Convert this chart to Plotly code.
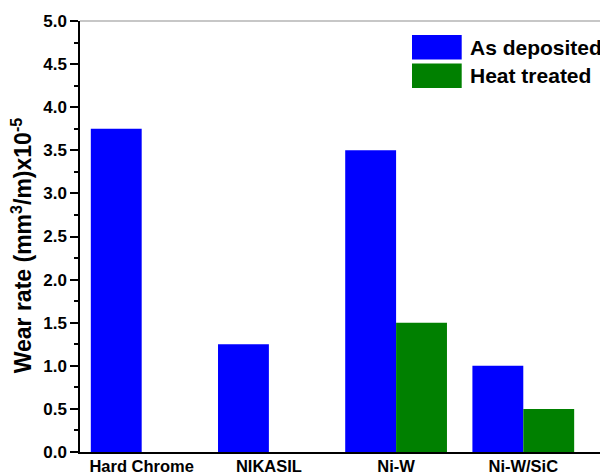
import plotly.graph_objects as go

categories = ["Hard Chrome", "NIKASIL", "Ni-W", "Ni-W/SiC"]
as_deposited = [3.75, 1.25, 3.5, 1.0]
heat_treated = [None, None, 1.5, 0.5]
series_names = ["As deposited", "Heat treated"]
colors = ["#0000FF", "#008000"]
y_ticks = [0.0, 0.5, 1.0, 1.5, 2.0, 2.5, 3.0, 3.5, 4.0, 4.5, 5.0]

FONT = "Liberation Sans, Arial, sans-serif"

fig = go.Figure()
for name, vals, col in zip(series_names, [as_deposited, heat_treated], colors):
    fig.add_trace(go.Bar(x=categories, y=vals, name=name, marker=dict(color=col, line=dict(width=0)),
                         showlegend=False))

# page has an 8px body margin; figure is shifted by (8, 8)
OFF = 8
W, H = 608 - OFF, 475 - OFF
L, R, T, B = 80 - OFF, 0, 20.7 - OFF, 23.3
pw, ph = W - L - R, H - T - B

def px(x):
    return (x - OFF - L) / pw

def py(y):
    return (H - B - (y - OFF)) / ph

shapes = [
    dict(type="line", xref="paper", yref="paper", x0=0, x1=1, y0=1, y1=1,
         line=dict(color="#b4b4b4", width=1.5)),
]
annotations = []
swatches = [(34.7, 59.3), (63.3, 87.7)]
for (y0, y1), name, col in zip(swatches, series_names, colors):
    shapes.append(dict(type="rect", xref="paper", yref="paper", x0=px(412), x1=px(461.7),
                       y0=py(y1), y1=py(y0), fillcolor=col, line=dict(width=0)))
    annotations.append(dict(xref="paper", yref="paper", x=px(468), y=py((y0 + y1) / 2),
                            text=name, showarrow=False, xanchor="left", yanchor="middle",
                            font=dict(family=FONT, size=21, color="black", weight="bold")))

annotations.append(dict(xref="paper", yref="paper", x=px(22), y=py(245),
                        text="Wear rate (mm<sup>3</sup>/m)x10<sup>-5</sup>", textangle=-90,
                        showarrow=False, xanchor="center", yanchor="middle",
                        font=dict(family=FONT, size=23, color="black", weight="bold")))

fig.update_layout(
    width=W, height=H,
    margin=dict(l=L, r=R, t=T, b=B, pad=0),
    paper_bgcolor="white", plot_bgcolor="white",
    barmode="group", bargap=0.2, bargroupgap=0,
    shapes=shapes, annotations=annotations,
    xaxis=dict(type="category", range=[-0.485, 3.666], showline=True, linecolor="black", linewidth=1.5,
               ticks="", showgrid=False, zeroline=False, automargin=False, ticklabelstandoff=-2,
               tickfont=dict(family=FONT, size=16.5, color="black", weight="bold")),
    yaxis=dict(range=[0, 5], tickvals=y_ticks, ticktext=[f"{v:.1f}" for v in y_ticks],
               showline=True, linecolor="black", linewidth=1.5, automargin=False,
               ticks="outside", ticklen=8, tickwidth=1.5, tickcolor="black",
               minor=dict(ticks="outside", ticklen=4, tickwidth=1.5, tickcolor="black", dtick=0.25, showgrid=False),
               showgrid=False, zeroline=False,
               tickfont=dict(family=FONT, size=17, color="black", weight="bold")),
)

fig.write_html("out.html")
